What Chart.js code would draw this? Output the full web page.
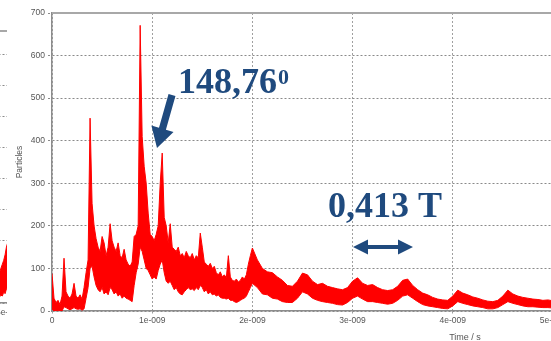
<!DOCTYPE html>
<html><head><meta charset="utf-8">
<script src="https://cdn.jsdelivr.net/npm/chart.js@4.4.0/dist/chart.umd.min.js"></script>
<style>
html,body{margin:0;padding:0;background:#fff;overflow:hidden;width:551px;height:341px;position:relative;}
#main{position:absolute;left:0;top:0;width:583px;height:341px;}
#clip{position:absolute;left:0;top:0;width:7px;height:341px;overflow:hidden;}
#side{position:absolute;left:-380px;top:0;width:430px;height:341px;}
</style></head><body>
<div id="main"><canvas id="c"></canvas></div>
<div id="clip"><div id="side"><canvas id="c2"></canvas></div></div>
<script>
// ---------- data (time in units of 1e-9 s, particles count) ----------
const timesNs = [
  0,0.02,0.04,0.06,0.08,0.1,0.12,0.14,0.16,0.18,
  0.2,0.22,0.24,0.26,0.28,0.3,0.32,0.34,0.36,0.38,
  0.4,0.42,0.44,0.46,0.48,0.5,0.52,0.54,0.56,0.58,
  0.6,0.62,0.64,0.66,0.68,0.7,0.72,0.74,0.76,0.78,
  0.8,0.82,0.84,0.86,0.88,0.9,0.92,0.94,0.96,0.98,
  1,1.02,1.04,1.06,1.08,1.1,1.12,1.14,1.16,1.18,
  1.2,1.22,1.24,1.26,1.28,1.3,1.32,1.34,1.36,1.38,
  1.4,1.42,1.44,1.46,1.48,1.5,1.52,1.54,1.56,1.58,
  1.6,1.62,1.64,1.66,1.68,1.7,1.72,1.74,1.76,1.78,
  1.8,1.82,1.84,1.86,1.88,1.9,1.92,1.94,1.96,1.98,
  2,
  2.05,2.1,2.15,2.2,2.25,2.3,2.35,2.4,2.45,2.5,
  2.55,2.6,2.65,2.7,2.75,2.8,2.85,2.9,2.95,3,
  3.05,3.1,3.15,3.2,3.25,3.3,3.35,3.4,3.45,3.5,
  3.55,3.6,3.65,3.7,3.75,3.8,3.85,3.9,3.95,4,
  4.05,4.1,4.15,4.2,4.25,4.3,4.35,4.4,4.45,4.5,
  4.55,4.6,4.65,4.7,4.75,4.8,4.85,4.9,4.95,5
];
const particlesUpper = [
  88,30,20,25,15,35,124,45,35,30,
  40,65,35,30,38,28,55,90,120,453,
  253,200,170,150,140,175,160,130,150,205,
  165,150,140,160,130,125,145,120,110,105,
  115,175,180,200,671,410,340,300,230,180,
  175,165,180,200,300,371,220,200,160,205,
  150,145,140,150,130,135,125,140,130,125,
  135,120,130,125,183,150,115,110,105,112,
  100,105,90,85,92,80,85,78,130,80,
  72,70,75,68,72,80,75,85,110,130,
  148,
  120,100,92,90,80,72,60,58,70,89,
  85,70,62,65,58,55,52,50,55,70,
  78,65,60,62,55,50,48,50,58,72,
  75,60,50,42,38,32,28,26,25,35,
  49,42,38,33,30,26,23,22,25,35,
  49,40,35,32,30,28,27,25,26,24
];
const particlesLower = [
  5,0,0,2,0,0,10,8,5,3,
  5,8,5,4,5,2,5,30,55,100,
  105,80,60,50,45,55,40,45,38,55,
  50,40,45,35,40,30,35,30,28,25,
  22,60,90,110,150,140,120,100,95,85,
  75,80,75,95,110,120,90,70,65,70,
  60,50,55,45,40,38,45,50,55,50,
  52,48,55,50,60,55,45,50,40,45,
  38,40,35,38,32,30,30,28,30,25,
  25,22,20,22,25,28,30,35,45,55,
  65,
  55,40,38,30,28,22,20,20,30,45,
  40,30,25,22,20,18,15,14,20,30,
  35,28,22,22,20,18,16,18,25,35,
  38,30,22,15,12,10,8,6,5,12,
  22,18,15,12,10,8,5,5,8,15,
  22,18,15,12,10,10,9,8,8,7
];
const xTickValues = [0,1,2,3,4,5];
const xTickLabels = ['0','1e-009','2e-009','3e-009','4e-009','5e-009'];
const yTitle = 'Particles';
const xTitle = 'Time / s';
const angleText = '148,76';
const angleSup = '0';
const fieldText = '0,413 T';

// neighbouring (cropped) chart at the left edge
const sideTimesNs = [4.8,4.84,4.86,4.88,4.9,4.92,4.94,4.96,4.98,5,5.02];
const sideUpper = [30,35,39,45,50,55,62,72,78,80,82];
const sideLower = [5,6,8,10,9,14,12,18,20,22,24];

// ---------- chart ----------
const RED = '#ff0000';
const NAVY = '#1f4a7e';
const tickFont = {family:'"Liberation Sans", Arial, sans-serif', size:8.5};
const pts = (xs, ys) => xs.map((t,i)=>({x:t, y:ys[i]}));

const annot = {
  id:'annot',
  afterDraw(chart){
    const ctx = chart.ctx, a = chart.chartArea;
    ctx.save();
    ctx.strokeStyle = '#a8a8a8'; ctx.lineWidth = 2;
    ctx.beginPath(); ctx.moveTo(a.left, a.top); ctx.lineTo(a.right, a.top); ctx.stroke();

    ctx.fillStyle = '#555';
    ctx.font = '9px "Liberation Sans", Arial, sans-serif';
    ctx.textAlign = 'center'; ctx.textBaseline = 'top';
    ctx.fillText(xTitle, 465, 333);

    ctx.fillStyle = NAVY; ctx.textAlign = 'left'; ctx.textBaseline = 'alphabetic';
    ctx.font = 'bold 36px "Liberation Serif", "Times New Roman", serif';
    ctx.fillText(angleText, 178, 93);
    const w = ctx.measureText(angleText).width;
    ctx.fillText(fieldText, 328, 217);
    ctx.font = 'bold 22px "Liberation Serif", "Times New Roman", serif';
    ctx.fillText(angleSup, 178 + w + 1, 84);

    // slanted arrow
    const S = [172, 95], T = [157, 148];
    const dx = T[0]-S[0], dy = T[1]-S[1], L = Math.hypot(dx, dy);
    const u = [dx/L, dy/L], n = [-u[1], u[0]];
    const B = [T[0]-20*u[0], T[1]-20*u[1]];
    const p = (P, k) => [P[0]+k*n[0], P[1]+k*n[1]];
    const poly = [p(S,3.6), p(B,3.6), p(B,11.5), T, p(B,-11.5), p(B,-3.6), p(S,-3.6)];
    ctx.beginPath(); ctx.moveTo(poly[0][0], poly[0][1]);
    poly.slice(1).forEach(q => ctx.lineTo(q[0], q[1]));
    ctx.closePath(); ctx.fill();

    // double-headed arrow
    const x1 = 353, x2 = 413, yc = 247, hl = 15, hh = 7.5, sh = 2;
    ctx.beginPath();
    ctx.moveTo(x1, yc);
    ctx.lineTo(x1+hl, yc-hh); ctx.lineTo(x1+hl, yc-sh);
    ctx.lineTo(x2-hl, yc-sh); ctx.lineTo(x2-hl, yc-hh);
    ctx.lineTo(x2, yc);
    ctx.lineTo(x2-hl, yc+hh); ctx.lineTo(x2-hl, yc+sh);
    ctx.lineTo(x1+hl, yc+sh); ctx.lineTo(x1+hl, yc+hh);
    ctx.closePath(); ctx.fill();
    ctx.restore();
  }
};

new Chart(document.getElementById('c'), {
  type: 'line',
  data: {
    datasets: [
      {data: pts(timesNs, particlesLower), borderColor: RED, borderWidth: 1, pointRadius: 0, fill: false, tension: 0},
      {data: pts(timesNs, particlesUpper), borderColor: RED, borderWidth: 1, pointRadius: 0, fill: '-1', backgroundColor: RED, tension: 0}
    ]
  },
  options: {
    animation: false, responsive: true, maintainAspectRatio: false,
    layout: {padding: {top: 13, right: 0, bottom: 0, left: 0}},
    plugins: {legend: {display: false}, tooltip: {enabled: false}},
    scales: {
      x: {
        type: 'linear', min: 0, max: 5.3,
        afterBuildTicks: s => { s.ticks = xTickValues.map(v => ({value: v})); },
        afterFit: s => { s.height = 30; },
        ticks: {autoSkip: false, maxRotation: 0, padding: 2, color: '#555', font: tickFont,
                callback: (v, i) => xTickLabels[i]},
        grid: {color: '#a0a0a0', lineWidth: 1, tickLength: 3, tickBorderDash: [2,2]},
        border: {display: true, color: '#8c8c8c', width: 1.5, dash: [2,2]}
      },
      y: {
        min: 0, max: 700,
        ticks: {stepSize: 100, padding: 3, color: '#555', font: tickFont},
        afterFit: s => { s.width = 52; },
        title: {display: true, text: yTitle, color: '#555', font: tickFont, padding: {top: 15, bottom: 0}},
        grid: {color: '#8a8a8a', lineWidth: 1, tickLength: 4, tickBorderDash: [2,2]},
        border: {display: true, color: '#8c8c8c', width: 1.5, dash: [2,2]}
      }
    }
  },
  plugins: [annot]
});

const sideTop = {
  id: 'sideTop',
  afterDraw(chart){
    const ctx = chart.ctx, a = chart.chartArea;
    ctx.save(); ctx.strokeStyle = '#a8a8a8'; ctx.lineWidth = 2;
    ctx.beginPath(); ctx.moveTo(a.left, a.top); ctx.lineTo(a.right, a.top); ctx.stroke();
    ctx.restore();
  }
};

new Chart(document.getElementById('c2'), {
  type: 'line',
  data: {
    datasets: [
      {data: pts(sideTimesNs, sideLower), borderColor: RED, borderWidth: 1, pointRadius: 0, fill: false},
      {data: pts(sideTimesNs, sideUpper), borderColor: RED, borderWidth: 1, pointRadius: 0, fill: '-1', backgroundColor: RED}
    ]
  },
  options: {
    animation: false, responsive: true, maintainAspectRatio: false,
    layout: {padding: {top: 31, right: 30, bottom: 0, left: 0}},
    plugins: {legend: {display: false}, tooltip: {enabled: false}},
    scales: {
      x: {
        type: 'linear', min: 0, max: 5.16,
        afterBuildTicks: s => { s.ticks = xTickValues.map(v => ({value: v})); },
        afterFit: s => { s.height = 38; },
        ticks: {autoSkip: false, maxRotation: 0, padding: 2, color: '#555', font: tickFont,
                callback: (v, i) => xTickLabels[i]},
        grid: {color: '#a0a0a0', tickLength: 3},
        border: {display: true, color: '#8c8c8c', width: 1.5, dash: [2,2]}
      },
      y: {
        min: 0, max: 350,
        afterBuildTicks: s => { s.ticks = s.ticks.filter(t => t.value % 40 === 0); },
        ticks: {stepSize: 40, color: '#555', font: tickFont},
        afterFit: s => { s.width = 50; },
        grid: {color: '#8a8a8a', tickLength: 4},
        border: {display: true, color: '#8c8c8c', width: 1.5, dash: [2,2]}
      }
    }
  },
  plugins: [sideTop]
});
</script>
</body></html>
